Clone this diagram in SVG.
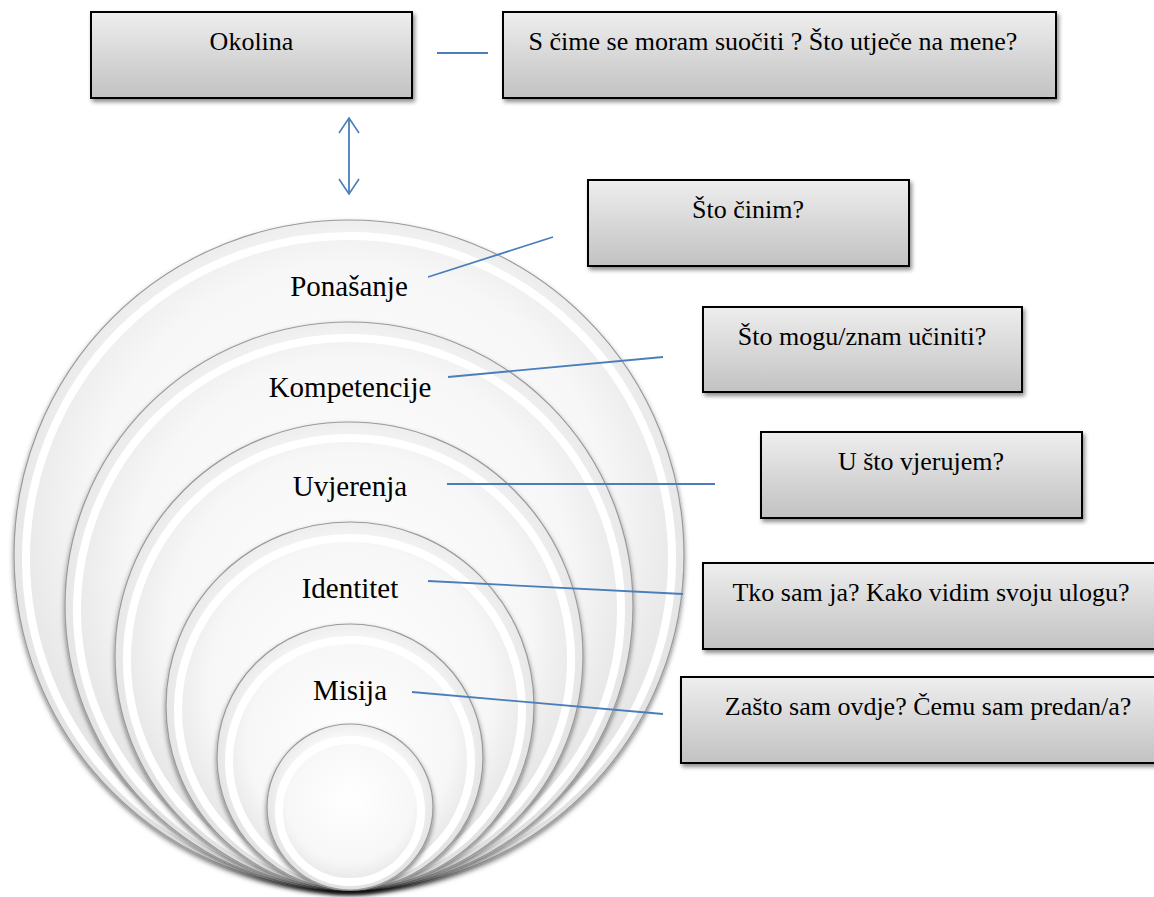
<svg xmlns="http://www.w3.org/2000/svg" width="1154" height="897" viewBox="0 0 1154 897">
<style>
.box{fill:url(#boxg);stroke:#000;stroke-width:2;filter:url(#bshadow)}
.bt{font-family:'Times New Roman','Liberation Serif','DejaVu Serif',serif;font-size:26px;fill:#000;text-anchor:middle}
.lbl{font-family:'Times New Roman','Liberation Serif','DejaVu Serif',serif;font-size:29px;fill:#000;text-anchor:middle}
.disc{fill:url(#discg);stroke:#9a9a9a;stroke-width:1.2;filter:url(#cshadow)}
.ring{fill:none;stroke:#ffffff;stroke-width:8}
.conn{stroke:#4a7ebb;stroke-width:1.8;fill:none}
</style>
<defs>
<linearGradient id="boxg" x1="0" y1="0" x2="0" y2="1">
<stop offset="0" stop-color="#eeeeee"/>
<stop offset="1" stop-color="#c2c2c2"/>
</linearGradient>
<radialGradient id="discg" cx="0.5" cy="0.45" r="0.55">
<stop offset="0" stop-color="#ffffff"/>
<stop offset="0.7" stop-color="#f7f7f7"/>
<stop offset="1" stop-color="#e0e0e0"/>
</radialGradient>
<filter id="bshadow" x="-10%" y="-20%" width="130%" height="160%">
<feDropShadow dx="2" dy="3" stdDeviation="2" flood-color="#000" flood-opacity="0.45"/>
</filter>
<filter id="cshadow" x="-10%" y="-10%" width="120%" height="125%">
<feDropShadow dx="0" dy="3" stdDeviation="2.5" flood-color="#000" flood-opacity="0.5"/>
</filter>
<marker id="chev" viewBox="0 0 17 22" refX="16" refY="11" markerWidth="17" markerHeight="22" markerUnits="userSpaceOnUse" orient="auto-start-reverse">
<path d="M1,1 L16,11 L1,21" fill="none" stroke="#4a7ebb" stroke-width="1.6"/>
</marker>
</defs>
<rect width="1154" height="897" fill="#ffffff"/>

<g id="circles">
<circle class="disc" cx="349" cy="555" r="335"/>
<circle class="ring" cx="349" cy="559" r="323"/>
<circle class="disc" cx="349" cy="606" r="284"/>
<circle class="ring" cx="349" cy="610" r="272"/>
<circle class="disc" cx="349" cy="656" r="234"/>
<circle class="ring" cx="349" cy="660" r="222"/>
<circle class="disc" cx="350" cy="706" r="184"/>
<circle class="ring" cx="350" cy="710" r="172"/>
<circle class="disc" cx="350" cy="757" r="133"/>
<circle class="ring" cx="350" cy="761" r="121"/>
<circle class="disc" cx="350" cy="807" r="83"/>
<circle class="ring" cx="350" cy="811" r="71"/>
</g>

<g id="n-ponasanje"><text class="lbl" x="349" y="296">Ponašanje</text></g>
<g id="n-kompetencije"><text class="lbl" x="350" y="397">Kompetencije</text></g>
<g id="n-uvjerenja"><text class="lbl" x="350" y="496">Uvjerenja</text></g>
<g id="n-identitet"><text class="lbl" x="350" y="598">Identitet</text></g>
<g id="n-misija"><text class="lbl" x="350" y="700">Misija</text></g>

<g id="n-okolina">
<rect class="box" x="91" y="12" width="321" height="86"/>
<text class="bt" x="251.5" y="50">Okolina</text>
</g>
<g id="n-suociti">
<rect class="box" x="503" y="12" width="553" height="86"/>
<text class="bt" x="773" y="50">S čime se moram suočiti ? Što utječe na mene?</text>
</g>
<g id="n-cinim">
<rect class="box" x="588" y="180" width="321" height="86"/>
<text class="bt" x="748" y="218">Što činim?</text>
</g>
<g id="n-mogu">
<rect class="box" x="703" y="307" width="319" height="85"/>
<text class="bt" x="862" y="345">Što mogu/znam učiniti?</text>
</g>
<g id="n-vjerujem">
<rect class="box" x="761" y="432" width="321" height="86"/>
<text class="bt" x="921" y="470">U što vjerujem?</text>
</g>
<g id="n-tko">
<rect class="box" x="703" y="563" width="470" height="86"/>
<text class="bt" x="931" y="601">Tko sam ja? Kako vidim svoju ulogu?</text>
</g>
<g id="n-zasto">
<rect class="box" x="681" y="677" width="490" height="86"/>
<text class="bt" x="928" y="715">Zašto sam ovdje? Čemu sam predan/a?</text>
</g>

<g id="connectors">
<line class="conn" x1="437" y1="53" x2="488" y2="53"/>
<line class="conn" x1="349" y1="118" x2="349" y2="194" marker-start="url(#chev)" marker-end="url(#chev)"/>
<line class="conn" x1="428" y1="277" x2="553" y2="237"/>
<line class="conn" x1="448" y1="377" x2="663" y2="357"/>
<line class="conn" x1="447" y1="484" x2="715" y2="484"/>
<line class="conn" x1="428" y1="581" x2="683" y2="594"/>
<line class="conn" x1="412" y1="692" x2="663" y2="714"/>
</g>
</svg>
